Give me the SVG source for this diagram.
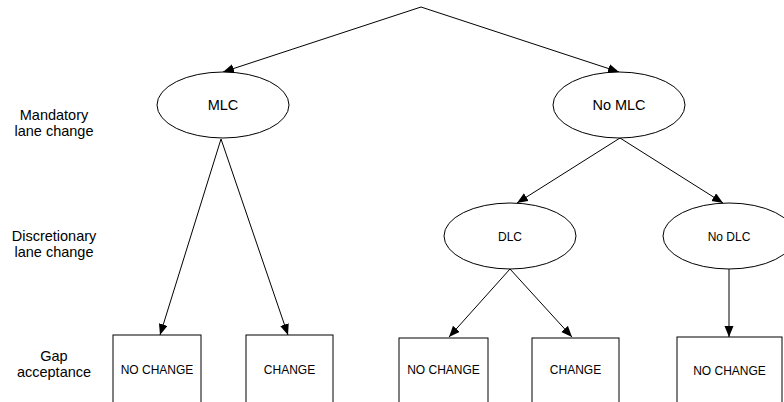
<svg xmlns="http://www.w3.org/2000/svg" width="784" height="402" viewBox="0 0 784 402">
<style>
.n{fill:#fff;stroke:#000;stroke-width:1}
.t{font-family:"Liberation Sans",Arial,sans-serif;fill:#000;text-anchor:middle}
.s12{font-size:12px}
.s14{font-size:14.5px}
.c{stroke:#000;stroke-width:1;fill:none}
.ca{stroke:#000;stroke-width:1;fill:none;marker-end:url(#ah)}
</style>
<defs>
<marker id="ah" markerUnits="userSpaceOnUse" markerWidth="12" markerHeight="10" refX="11" refY="4.5" orient="auto">
<path d="M0,0 L11,4.5 L0,9 Z" fill="#000"/>
</marker>
</defs>
<rect width="784" height="402" fill="#fff"/>
<g id="labels">
<text class="t s14" x="54" y="120">Mandatory</text>
<text class="t s14" x="54" y="136">lane change</text>
<text class="t s14" x="54" y="241">Discretionary</text>
<text class="t s14" x="54" y="257">lane change</text>
<text class="t s14" x="54" y="361">Gap</text>
<text class="t s14" x="54" y="377">acceptance</text>
</g>
<g id="connectors">
<path class="ca" d="M421,7 L223,72"/>
<path class="ca" d="M421,7 L619,72"/>
<path class="ca" d="M221,139 L160,335"/>
<path class="ca" d="M221,139 L288,335"/>
<path class="ca" d="M620,138 L517,203"/>
<path class="ca" d="M620,138 L723,203"/>
<path class="ca" d="M510,269 L449,337"/>
<path class="ca" d="M510,269 L572,337"/>
<path class="ca" d="M729,269 L729,337"/>
</g>
<g id="mlc"><ellipse class="n" cx="223" cy="105" rx="66" ry="33"/><text class="t s14" x="223" y="110">MLC</text></g>
<g id="nomlc"><ellipse class="n" cx="619" cy="105" rx="66" ry="33"/><text class="t s14" x="619" y="110">No MLC</text></g>
<g id="dlc"><ellipse class="n" cx="510" cy="236" rx="66" ry="33"/><text class="t s12" x="510" y="241">DLC</text></g>
<g id="nodlc"><ellipse class="n" cx="729" cy="236" rx="66" ry="33"/><text class="t s12" x="729" y="241">No DLC</text></g>
<g id="box1"><rect class="n" x="113" y="335" width="88" height="80"/><text class="t s12" x="157" y="374">NO CHANGE</text></g>
<g id="box2"><rect class="n" x="246" y="335" width="87" height="80"/><text class="t s12" x="289.5" y="374">CHANGE</text></g>
<g id="box3"><rect class="n" x="399" y="338" width="89" height="80"/><text class="t s12" x="443.5" y="374">NO CHANGE</text></g>
<g id="box4"><rect class="n" x="532" y="338" width="87" height="80"/><text class="t s12" x="575.5" y="374">CHANGE</text></g>
<g id="box5"><rect class="n" x="677" y="337" width="105" height="80"/><text class="t s12" x="729.5" y="375">NO CHANGE</text></g>
</svg>
